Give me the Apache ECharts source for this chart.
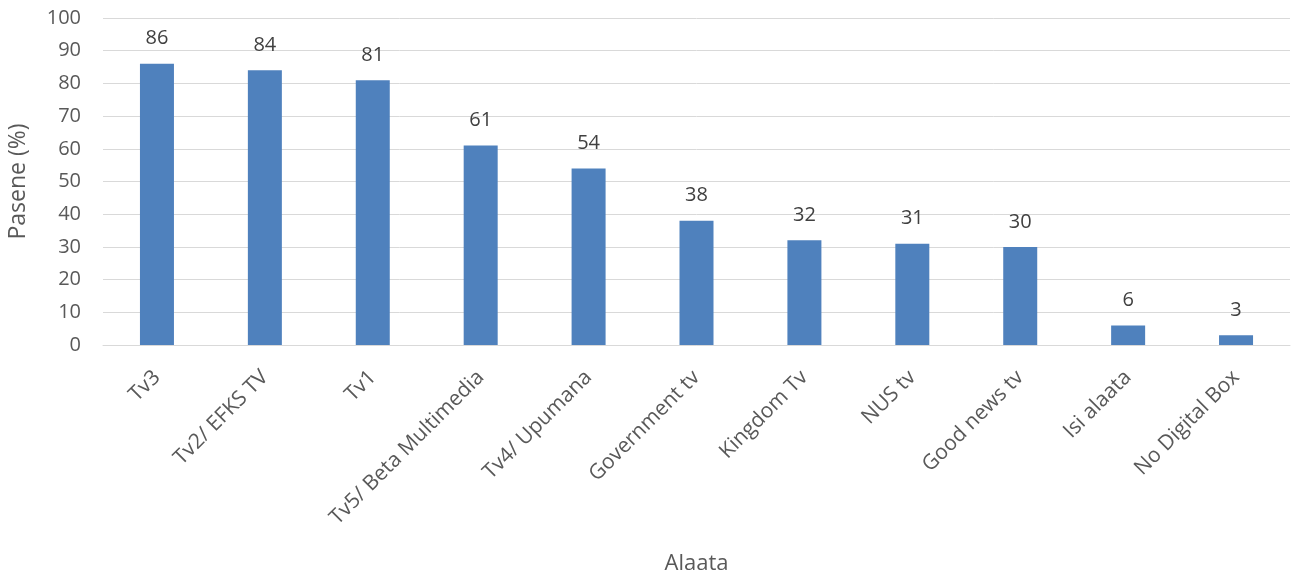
<!DOCTYPE html>
<html><head><meta charset="utf-8">
<script src="https://cdn.jsdelivr.net/npm/echarts@6/dist/echarts.min.js"></script>
<style>html,body{margin:0;padding:0;background:#fff}#c{width:1300px;height:578px}</style>
</head><body><div id="c"></div>
<script>
const categories = ["Tv3","Tv2/ EFKS TV","Tv1","Tv5/ Beta Multimedia","Tv4/ Upumana","Government tv","Kingdom Tv","NUS tv","Good news tv","Isi alaata","No Digital Box"];
const values = [86,84,81,61,54,38,32,31,30,6,3];
const yTicks = {min:0,max:100,interval:10};
const FONT = "Open Sans";
const chart = echarts.init(document.getElementById('c'));
chart.setOption({
  animation:false,
  textStyle:{fontFamily:FONT},
  grid:{left:103,right:10,top:18,bottom:233,containLabel:false,outerBoundsMode:'none'},
  xAxis:{
    type:'category',data:categories,
    axisLine:{lineStyle:{color:'#d9d9d9',width:1}},
    axisTick:{show:false},
    axisLabel:{rotate:45,color:'#595959',fontSize:21,fontFamily:FONT,margin:29,interval:0},
    name:'Alaata',nameLocation:'middle',nameGap:208,
    nameTextStyle:{color:'#595959',fontSize:22,fontFamily:FONT}
  },
  yAxis:{
    type:'value',min:yTicks.min,max:yTicks.max,interval:yTicks.interval,
    axisLine:{show:false},axisTick:{show:false},
    splitLine:{lineStyle:{color:'#d9d9d9',width:1}},
    axisLabel:{color:'#595959',fontSize:20,fontFamily:FONT,margin:22},
    name:'Pasene (%)',nameLocation:'middle',nameGap:73,nameRotate:90,
    nameTextStyle:{color:'#595959',fontSize:23,fontFamily:FONT}
  },
  series:[{
    type:'bar',data:values,barWidth:34,
    itemStyle:{color:'#4f81bd'},
    label:{show:true,position:'top',distance:15,color:'#404040',fontSize:20,fontFamily:FONT}
  }]
});
</script></body></html>
